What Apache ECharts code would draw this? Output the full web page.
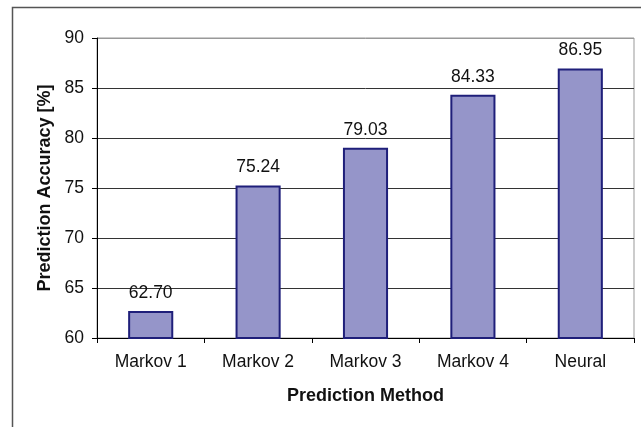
<!DOCTYPE html>
<html>
<head>
<meta charset="utf-8">
<script src="https://cdn.jsdelivr.net/npm/echarts@6/dist/echarts.min.js"></script>
<style>
html,body{margin:0;padding:0;background:#fff;}
#main{width:641px;height:427px;}
</style>
</head>
<body>
<div id="main"></div>
<script>
var categories = ['Markov 1', 'Markov 2', 'Markov 3', 'Markov 4', 'Neural'];
var accuracy = [62.70, 75.24, 79.03, 84.33, 86.95];
var yTicks = [60, 65, 70, 75, 80, 85, 90];

var chart = echarts.init(document.getElementById('main'), null, {renderer: 'canvas'});
var font = '"Liberation Sans", Arial, sans-serif';
chart.setOption({
  animation: false,
  backgroundColor: '#fff',
  graphic: [{
    type: 'rect',
    shape: {x: 12.5, y: 7.5, width: 700, height: 500},
    style: {fill: 'none', stroke: '#555', lineWidth: 1.5},
    silent: true
  }],
  grid: {left: 97, right: 7, top: 38, bottom: 89, show: true, borderColor: '#999', borderWidth: 1, backgroundColor: 'transparent'},
  xAxis: {
    type: 'category',
    data: categories,
    name: 'Prediction Method',
    nameLocation: 'middle',
    nameGap: 49,
    nameTextStyle: {fontFamily: font, fontSize: 18, fontWeight: 'bold', color: '#111'},
    axisLine: {lineStyle: {color: '#000', width: 1}},
    axisTick: {show: true, alignWithLabel: false, length: 5, lineStyle: {color: '#000'}},
    axisLabel: {fontFamily: font, fontSize: 17.5, color: '#111', margin: 15},
    splitLine: {show: false}
  },
  yAxis: {
    type: 'value',
    min: yTicks[0],
    max: yTicks[yTicks.length - 1],
    interval: 5,
    name: 'Prediction Accuracy [%]',
    nameLocation: 'middle',
    nameGap: 43,
    nameTextStyle: {fontFamily: font, fontSize: 18, fontWeight: 'bold', color: '#111'},
    axisLine: {show: true, lineStyle: {color: '#000', width: 1}},
    axisTick: {show: true, length: 5, lineStyle: {color: '#000'}},
    axisLabel: {fontFamily: font, fontSize: 17.5, color: '#111', margin: 13},
    splitLine: {show: true, lineStyle: {color: ['#333', '#333', '#333', '#333', '#333', '#333', '#999'], width: 1}}
  },
  series: [{
    type: 'bar',
    data: accuracy,
    barWidth: '42%',
    itemStyle: {color: '#9595C9', borderColor: '#1F1F7A', borderWidth: 2},
    label: {
      show: true,
      position: 'top',
      distance: 9,
      fontFamily: font,
      fontSize: 17.5,
      color: '#111',
      formatter: function (p) { return p.value.toFixed(2); }
    }
  }]
});
</script>
</body>
</html>
